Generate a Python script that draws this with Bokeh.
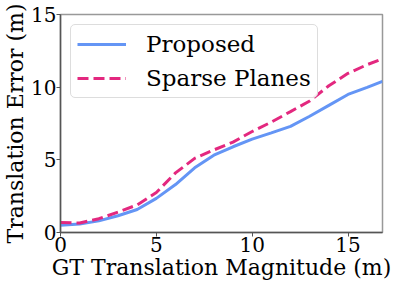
from bokeh.plotting import figure
from bokeh.models import Range1d, Legend, LegendItem
from bokeh.embed import file_html
from bokeh.resources import INLINE

x_vals = [0, 1, 2, 3, 4, 5, 6, 7, 8, 9, 10, 11, 12, 13, 14, 15, 16, 16.8]
proposed = [0.5, 0.58, 0.8, 1.15, 1.58, 2.35, 3.3, 4.45, 5.32, 5.9, 6.42, 6.85, 7.3, 8.0, 8.75, 9.5, 9.98, 10.4]
sparse_planes = [0.68, 0.65, 0.95, 1.4, 1.9, 2.75, 4.1, 5.1, 5.68, 6.22, 6.95, 7.6, 8.32, 9.05, 10.1, 10.95, 11.55, 11.95]
x_ticks = [0, 5, 10, 15]
y_ticks = [0, 5, 10, 15]

FONT = "DejaVu Serif"

p = figure(width=395, height=285, output_backend="svg", toolbar_location=None,
           x_range=Range1d(0, 16.8), y_range=Range1d(0, 15),
           min_border_left=60, min_border_right=13, min_border_top=14, min_border_bottom=53)
p.xgrid.visible = False
p.ygrid.visible = False
p.outline_line_color = "#999999"
p.outline_line_width = 1.5

r1 = p.line(x_vals, proposed, line_color="#6495f5", line_width=3)
r2 = p.line(x_vals, sparse_planes, line_color="#e3287f", line_width=3, line_dash="11 5")

for ax in (p.xaxis[0], p.yaxis[0]):
    ax.major_label_text_font = FONT
    ax.major_label_text_font_size = "20px"
    ax.major_label_text_color = "black"
    ax.axis_label_text_font = FONT
    ax.axis_label_text_font_size = "22px"
    ax.axis_label_text_font_style = "normal"
    ax.axis_label_text_color = "black"
    ax.minor_tick_line_color = None
    ax.major_tick_out = 4
    ax.major_tick_in = 0
    ax.axis_line_color = "#555555"
    ax.axis_line_width = 1.5
    ax.major_tick_line_color = "#555555"
    ax.axis_label_standoff = 0
    ax.major_label_standoff = 0

p.xaxis.ticker = x_ticks
p.yaxis.ticker = y_ticks
p.xaxis.axis_label = "GT Translation Magnitude (m)"
p.yaxis.axis_label = "Translation Error (m)"

legend = Legend(items=[LegendItem(label="Proposed", renderers=[r1]),
                       LegendItem(label="Sparse Planes", renderers=[r2])],
                location="top_left")
legend.label_text_font = FONT
legend.label_text_font_size = "23px"
legend.label_text_color = "black"
legend.border_line_color = "#dddddd"
legend.border_line_alpha = 1
legend.background_fill_alpha = 0.9
legend.glyph_width = 49
legend.label_standoff = 20
legend.spacing = 8
legend.padding = 6
legend.margin = 10
legend.border_radius = 5
p.add_layout(legend)

open("out.html", "w").write(file_html(p, INLINE))
